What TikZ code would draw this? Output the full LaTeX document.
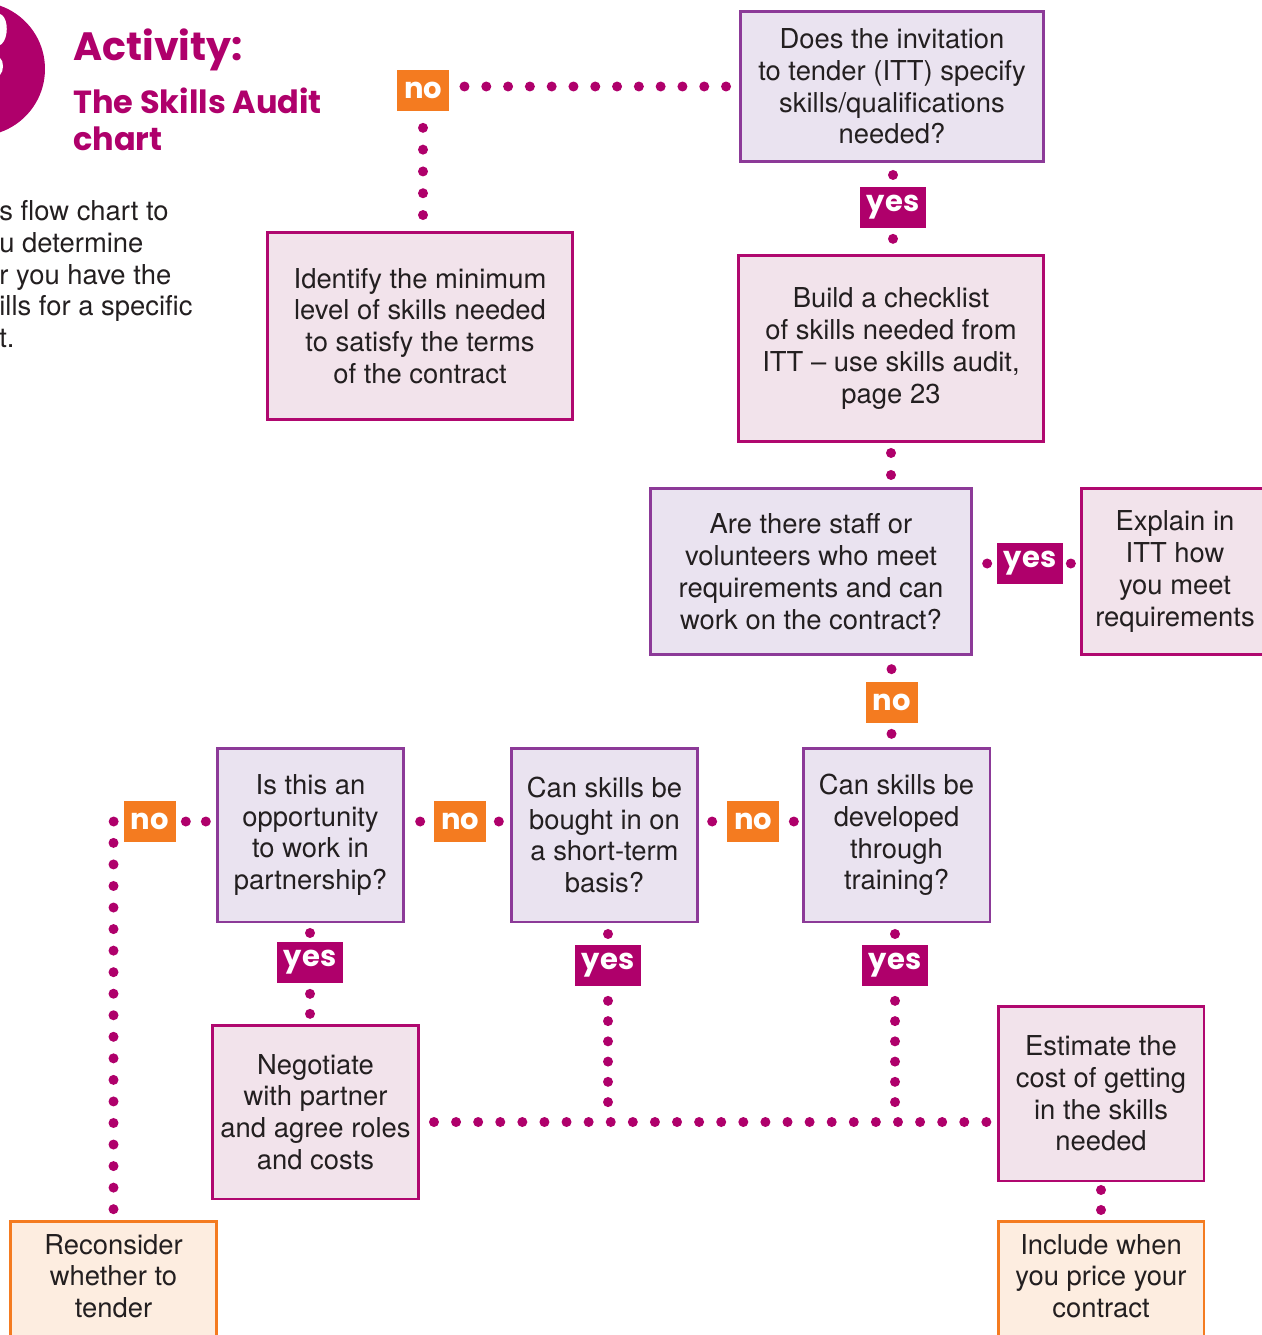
\documentclass[tikz,border=0pt]{standalone}
\usepackage{fontspec}
\setmainfont{TeX Gyre Heros}
\newfontfamily\titlefont{Poppins}
\usetikzlibrary{calc}
\definecolor{mag}{HTML}{AF006B}
\definecolor{qline}{HTML}{8C3A98}
\definecolor{qfill}{HTML}{EAE3F0}
\definecolor{aline}{HTML}{B0086F}
\definecolor{afill}{HTML}{F2E3EB}
\definecolor{orng}{HTML}{F47B20}
\definecolor{ofill}{HTML}{FDEDE0}
\definecolor{ink}{HTML}{231F20}
\newcommand\boxfont{\fontsize{15.6pt}{18.1pt}\selectfont}
\newcommand\labfont{\titlefont\bfseries\fontsize{16.5pt}{18pt}\selectfont}
\tikzset{
  qbox/.style={draw=qline, fill=qfill, line width=1.7pt, align=center, inner sep=0pt, text=ink, font=\boxfont},
  abox/.style={qbox, draw=aline, fill=afill},
  obox/.style={draw=orng, fill=ofill, line width=1.7pt, inner sep=0pt},
  otext/.style={align=center, inner sep=0pt, text=ink, font=\boxfont},
  lab/.style={inner sep=0pt, minimum height=0.82cm, text=white, font=\labfont},
  nolab/.style={lab, fill=orng, minimum width=1.04cm},
  yeslab/.style={lab, fill=mag, minimum width=1.32cm},
  dl/.style={draw=mag, line width=0.2cm, line cap=round, dash pattern=on 0pt off #1},
  dl/.default=0.436cm,
  ttl/.style={anchor=base west, inner sep=0pt, text=mag, font=\titlefont\bfseries}
}
\begin{document}
\begin{tikzpicture}[x=0.02cm,y=-0.02cm]
\useasboundingbox (0,0) rectangle (1261,1335);

% title block
\fill[mag] (-22,69) circle (1.34cm);
\fill[white] (0,14) .. controls (7,16) and (9,32) .. (4,41) .. controls (3,44) and (0,45) .. (0,45) -- cycle;
\fill[white] (0,58) .. controls (4,61) and (4,71) .. (0,75) -- cycle;
\node[ttl, font=\titlefont\bfseries\fontsize{22.5pt}{26pt}\selectfont] (t1) at (73,61) {Activity:};
\node[ttl, font=\titlefont\bfseries\fontsize{18.2pt}{22pt}\selectfont] (t2) at (73,113) {The Skills Audit};
\node[ttl, font=\titlefont\bfseries\fontsize{18.2pt}{22pt}\selectfont] (t3) at (73,151) {chart};
\node[anchor=north west, align=left, inner sep=0pt, text=ink, font=\boxfont] (intro) at (-1,200)
  {s flow chart to\\u determine\\r you have the\\ills for a specific\\t.};

% boxes
\node[qbox, minimum width=6.08cm, minimum height=3.02cm] (itt) at (892,86.5)
  {Does the invitation\\to tender (ITT) specify\\skills/qualifications\\needed?};
\node[abox, minimum width=6.12cm, minimum height=3.76cm] (ident) at (420,326)
  {Identify the minimum\\level of skills needed\\to satisfy the terms\\of the contract};
\node[abox, minimum width=6.12cm, minimum height=3.74cm] (build) at (891,348.5)
  {Build a checklist\\of skills needed from\\ITT -- use skills audit,\\page 23};
\node[qbox, minimum width=6.44cm, minimum height=3.34cm] (staff) at (811,571.5)
  {Are there staff or\\volunteers who meet\\requirements and can\\work on the contract?};
\node[abox, minimum width=3.76cm, minimum height=3.34cm] (explain) at (1175,571.5)
  {Explain in\\ITT how\\you meet\\requirements};
\node[qbox, minimum width=3.74cm, minimum height=3.48cm] (partner) at (310.5,835)
  {Is this an\\opportunity\\to work in\\partnership?};
\node[qbox, minimum width=3.74cm, minimum height=3.48cm] (bought) at (604.5,835)
  {Can skills be\\bought in on\\a short-term\\basis?};
\node[qbox, minimum width=3.74cm, minimum height=3.48cm] (develop) at (896.5,835)
  {Can skills be\\developed\\through\\training?};
\node[abox, minimum width=4.14cm, minimum height=3.48cm] (negot) at (315.5,1112)
  {Negotiate\\with partner\\and agree roles\\and costs};
\node[abox, minimum width=4.12cm, minimum height=3.5cm] (estim) at (1101,1093.5)
  {Estimate the\\cost of getting\\in the skills\\needed};
\node[obox, minimum width=4.14cm, minimum height=2.8cm] (recon) at (113.5,1291) {};
\node[otext] (recontext) at (113.5,1276) {Reconsider\\whether to\\tender};
\node[obox, minimum width=4.12cm, minimum height=2.8cm] (incl) at (1101,1291) {};
\node[otext] (incltext) at (1101,1276) {Include when\\you price your\\contract};

% labels
\node[nolab] (no1) at (423,90.5) {no};
\node[yeslab] (yes1) at (893,207.5) {yes};
\node[yeslab] (yes2) at (1030,563.5) {yes};
\node[nolab] (no2) at (891.5,702.5) {no};
\node[nolab] (no5) at (150,821.5) {no};
\node[nolab] (no4) at (460,821.5) {no};
\node[nolab] (no3) at (753,821.5) {no};
\node[yeslab] (yes3) at (310,962.5) {yes};
\node[yeslab] (yes4) at (608,965.5) {yes};
\node[yeslab] (yes5) at (895,965.5) {yes};
\coordinate (j1) at (608,1122);
\coordinate (j2) at (895,1122);

% connectors
\draw[dl, shorten <=0.25cm, shorten >=0.26cm] (itt.west) -- (itt.west -| no1.east);
\draw[dl, shorten <=0.33cm, shorten >=0.3cm] (no1.south) -- (no1.south |- ident.north);
\draw[dl, shorten <=0.23cm] (yes1.north |- itt.south) -- (yes1.north);
\draw[dl, shorten <=0.21cm] (yes1.south) -- (yes1.south |- build.north);
\draw[dl=0.44cm, shorten <=0.19cm] (build.south) -- (build.south |- staff.north);
\draw[dl, shorten <=0.19cm] (yes2.west) -- (yes2.west -| staff.east);
\draw[dl, shorten <=0.15cm] (yes2.east) -- (yes2.east -| explain.west);
\draw[dl, shorten <=0.25cm] (no2.north) -- (no2.north |- staff.south);
\draw[dl, shorten <=0.21cm] (no2.south) -- (no2.south |- develop.north);
\draw[dl, shorten <=0.29cm] (no3.east) -- (no3.east -| develop.west);
\draw[dl, shorten <=0.29cm] (no3.west) -- (no3.west -| bought.east);
\draw[dl, shorten <=0.25cm] (no4.east) -- (no4.east -| bought.west);
\draw[dl, shorten <=0.27cm] (no4.west) -- (no4.west -| partner.east);
\draw[dl=0.4cm, shorten <=0.19cm] (no5.east) -- (no5.east -| partner.west);
\draw[dl=0.431cm, shorten <=0.2cm, shorten >=0.1cm] (no5.west) -| (recon.north);
\draw[dl, shorten <=0.19cm] (yes3.north |- partner.south) -- (yes3.north);
\draw[dl=0.4cm, shorten <=0.21cm] (yes3.south) -- (yes3.south |- negot.north);
\draw[dl, shorten <=0.21cm] (yes4.north |- bought.south) -- (yes4.north);
\draw[dl=0.405cm, shorten <=0.29cm] (yes4.south) -- (j1);
\draw[dl, shorten <=0.21cm] (yes5.north |- develop.south) -- (yes5.north);
\draw[dl=0.405cm, shorten <=0.29cm] (yes5.south) -- (j2);
\draw[dl=0.442cm, shorten <=0.27cm] (negot.east |- j1) -- (estim.west |- j1);
\draw[dl=0.4cm, shorten <=0.15cm] (estim.south) -- (estim.south |- incl.north);
\end{tikzpicture}
\end{document}
